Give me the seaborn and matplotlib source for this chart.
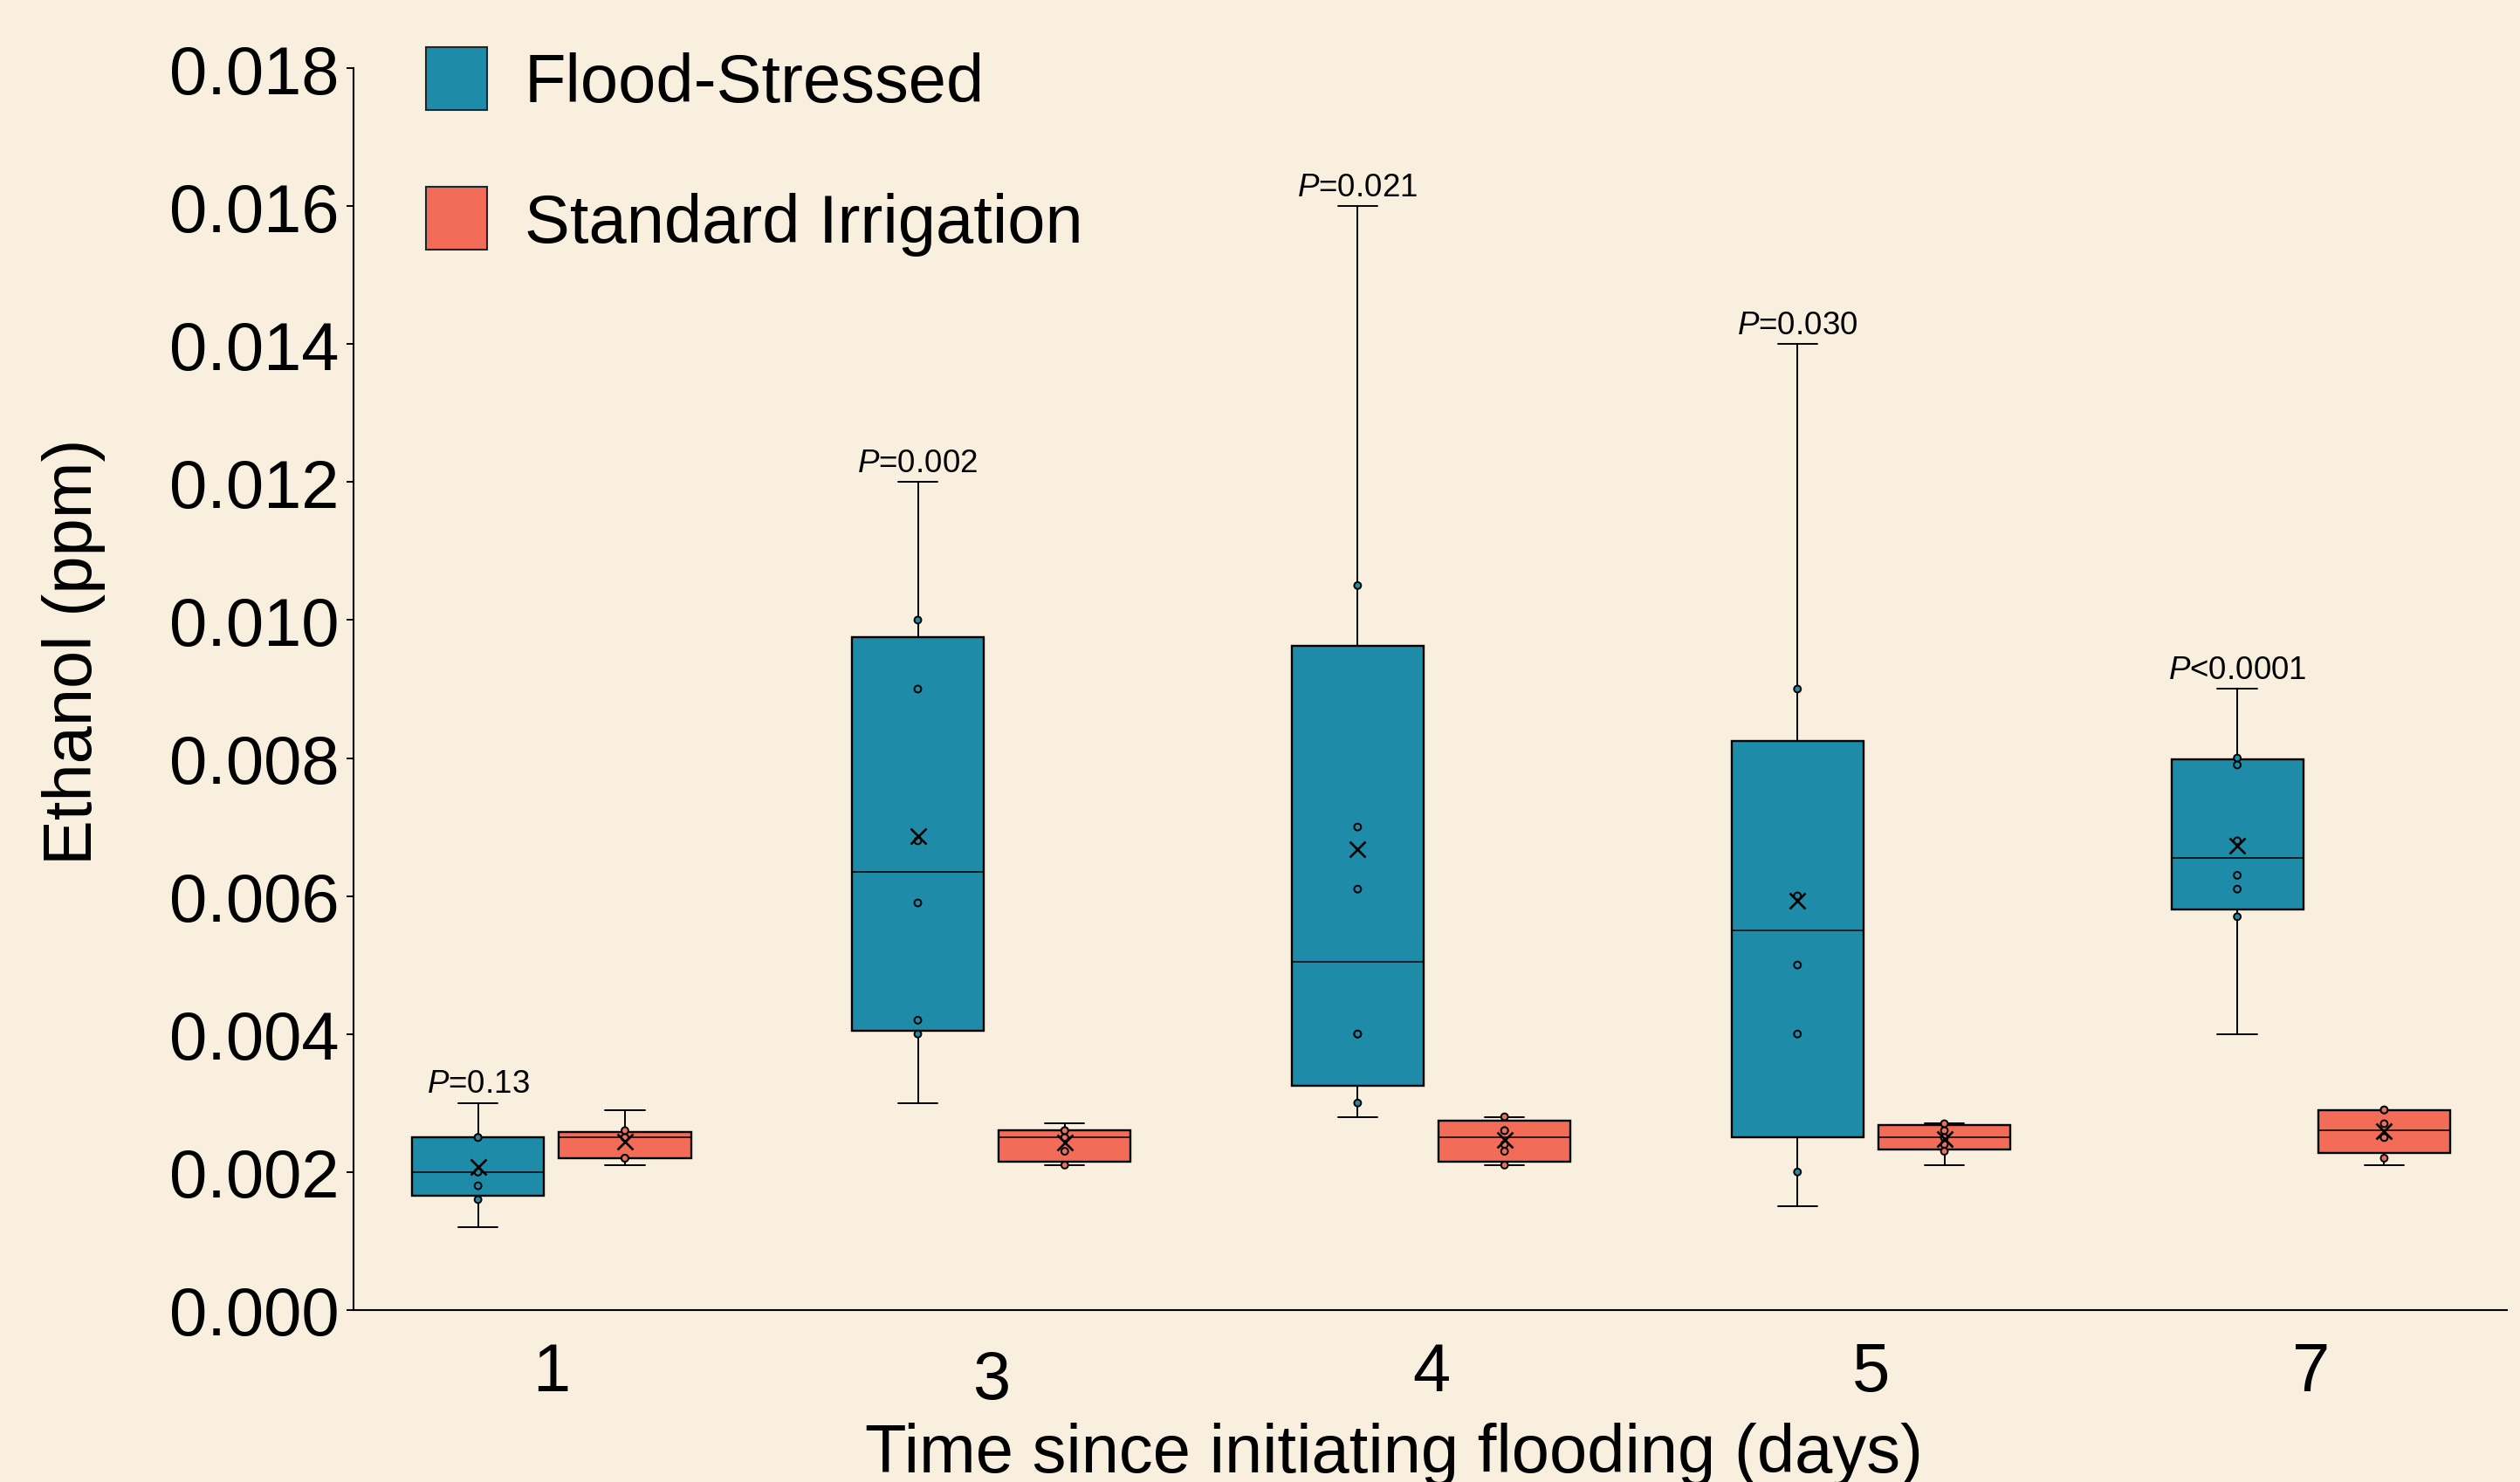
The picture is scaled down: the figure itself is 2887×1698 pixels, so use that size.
import numpy as np
import pandas as pd
import matplotlib
matplotlib.use("Agg")
import matplotlib.pyplot as plt
import matplotlib.ticker as ticker
import matplotlib.transforms as mtransforms
from matplotlib.patches import Patch
import seaborn as sns

# ethanol readings (ppm), 8 plants per group and day
days = ["1", "3", "4", "5", "7"]
groups = ["Flood-Stressed", "Standard Irrigation"]

flood_d1 = [0.0012, 0.0016, 0.0018, 0.0020, 0.0020, 0.0025, 0.0025, 0.0030]
flood_d3 = [0.0030, 0.0040, 0.0042, 0.0059, 0.0068, 0.0090, 0.0100, 0.0120]
flood_d4 = [0.0028, 0.0030, 0.0040, 0.0040, 0.0061, 0.0070, 0.0105, 0.0160]
flood_d5 = [0.0015, 0.0020, 0.0040, 0.0050, 0.0060, 0.0060, 0.0090, 0.0140]
flood_d7 = [0.0040, 0.0057, 0.0061, 0.0063, 0.0068, 0.0079, 0.0080, 0.0090]

std_d1 = [0.0021, 0.0022, 0.0022, 0.0025, 0.0025, 0.0025, 0.0026, 0.0029]
std_d3 = [0.0021, 0.0021, 0.0023, 0.0025, 0.0025, 0.0026, 0.0026, 0.0027]
std_d4 = [0.0021, 0.0021, 0.0023, 0.0024, 0.0026, 0.0026, 0.0028, 0.0028]
std_d5 = [0.0021, 0.0023, 0.0024, 0.0025, 0.0025, 0.0026, 0.0027, 0.0027]
std_d7 = [0.0021, 0.0022, 0.0025, 0.0025, 0.0027, 0.0029, 0.0029, 0.0029]

p_labels = ["$P$=0.13", "$P$=0.002", "$P$=0.021", "$P$=0.030", "$P$<0.0001"]

flood = [flood_d1, flood_d3, flood_d4, flood_d5, flood_d7]
standard = [std_d1, std_d3, std_d4, std_d5, std_d7]

teal = "#1E8CA8"
coral = "#F36C58"
bg = "#F8EFDE"
palette = {groups[0]: teal, groups[1]: coral}
offsets = {groups[0]: -0.167, groups[1]: 0.167}

rows = []
for i, d in enumerate(days):
    for g, vals in zip(groups, [flood[i], standard[i]]):
        for v in vals:
            rows.append({"day": d, "group": g, "ethanol": v, "pos": i + offsets[g]})
df = pd.DataFrame(rows)

sns.set_theme(style="ticks", rc={"axes.facecolor": bg, "figure.facecolor": bg,
                                 "text.color": "black", "axes.labelcolor": "black",
                                 "xtick.color": "black", "ytick.color": "black"})
plt.rcParams["font.family"] = ["Liberation Sans", "DejaVu Sans"]
plt.rcParams["mathtext.fontset"] = "custom"
plt.rcParams["mathtext.rm"] = "Liberation Sans"
plt.rcParams["mathtext.it"] = "Liberation Sans:italic"

fig = plt.figure(figsize=(28.87, 16.99), dpi=100)
ax = fig.add_axes([0.1403, 0.1160, 0.8545, 0.8375])

# box stats with exclusive quartiles (as in the spreadsheet the data came from)
stats, positions, colors = [], [], []
for (d, g), sub in df.groupby(["day", "group"], sort=False):
    v = sub["ethanol"].to_numpy()
    q1, med, q3 = np.percentile(v, [25, 50, 75], method="weibull")
    stats.append({"med": med, "q1": q1, "q3": q3, "whislo": v.min(),
                  "whishi": v.max(), "mean": v.mean(), "fliers": []})
    positions.append(sub["pos"].iloc[0])
    colors.append(palette[g])

bp = ax.bxp(stats, positions=positions, widths=0.30, patch_artist=True,
            showmeans=True, showfliers=False, capwidths=0.09, manage_ticks=False,
            boxprops=dict(edgecolor="black", linewidth=1.7),
            medianprops=dict(color="black", linewidth=1.1),
            whiskerprops=dict(color="black", linewidth=1.4),
            capprops=dict(color="black", linewidth=1.4),
            meanprops=dict(marker="x", markeredgecolor="black", markersize=13,
                           markeredgewidth=1.9))
for patch, c in zip(bp["boxes"], colors):
    patch.set_facecolor(c)
for m in bp["means"]:
    m.set_zorder(5)

# inner points (min and max are shown by the whiskers)
inner = (df.sort_values("ethanol")
         .groupby(["day", "group"], group_keys=False, sort=False)
         .apply(lambda s: s.iloc[1:-1]))
sns.scatterplot(data=inner, x="pos", y="ethanol", hue="group", palette=palette,
                edgecolor="black", linewidth=1.4, s=32, legend=False, ax=ax, zorder=4)

for i, p in enumerate(p_labels):
    ax.annotate(p, xy=(i + offsets[groups[0]], max(flood[i])), xytext=(0, 9),
                textcoords="offset points", ha="center", va="baseline", fontsize=26.5)

ax.set_xlim(-0.45, 4.446)
ax.set_ylim(0, 0.018)
ax.set_xticks(range(len(days)))
ax.set_xticklabels(days)
ax.set_yticks(np.arange(0, 0.0181, 0.002))
ax.yaxis.set_major_formatter(ticker.FormatStrFormatter("%.3f"))
ax.tick_params(axis="x", length=0, pad=25, labelsize=56)
ax.tick_params(axis="y", length=6, width=1.4, pad=6, labelsize=56, color="black")
# the "3" sits a little lower in the original
lbl = ax.get_xticklabels()[1]
lbl.set_transform(lbl.get_transform() +
                  mtransforms.ScaledTranslation(0, -0.09, fig.dpi_scale_trans))
sns.despine(ax=ax)
for s in ["left", "bottom"]:
    ax.spines[s].set_color("black")
    ax.spines[s].set_linewidth(1.5)

ax.set_xlabel("Time since initiating flooding (days)", fontsize=56)
ax.set_ylabel("Ethanol (ppm)", fontsize=56, va="center")
ax.xaxis.set_label_coords(0.483, -0.090)
ax.yaxis.set_label_coords(-0.130, 0.531)

handles = [Patch(facecolor=palette[g], edgecolor="#1a2630", linewidth=1.5) for g in groups]
ax.legend(handles, groups, loc="upper left", bbox_to_anchor=(0.0337, 1.017),
          frameon=False, fontsize=56, handlelength=0.9, handleheight=1.05,
          handletextpad=0.55, labelspacing=1.05, borderpad=0, borderaxespad=0)

fig.savefig("out.png", dpi=100, facecolor=bg)
